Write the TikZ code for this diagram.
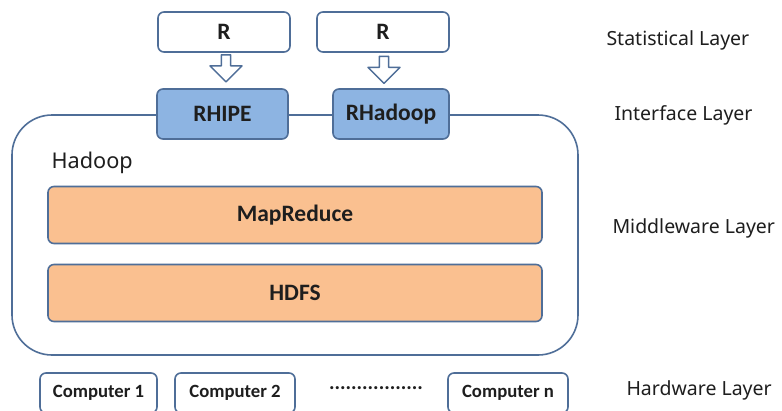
\documentclass[tikz,border=0pt]{standalone}
\usepackage{fontspec}
\setmainfont{Carlito}
\newfontfamily\layerfont{Noto Sans}
\usetikzlibrary{shapes.arrows}

\definecolor{edgeblue}{HTML}{4F6E98}
\definecolor{ifblue}{HTML}{8DB4E2}
\definecolor{mworange}{HTML}{FAC090}
\definecolor{txt}{HTML}{1E1E1E}

\tikzset{
  basebox/.style={draw=edgeblue,line width=1.6pt,rounded corners=6pt,font=\bfseries\fontsize{23.5}{26}\selectfont,text=txt},
  rbox/.style={basebox,fill=white,minimum width=132pt,minimum height=40pt},
  ifbox/.style={basebox,fill=ifblue,minimum height=50pt},
  mwbox/.style={basebox,fill=mworange,minimum width=494pt,minimum height=57pt},
  compbox/.style={basebox,fill=white,minimum height=40pt,font=\bfseries\fontsize{18.7}{20}\selectfont},
  downarrow/.style={single arrow,draw=edgeblue,line width=1.4pt,fill=white,shape border rotate=270,
    minimum height=27pt,minimum width=32pt,single arrow head extend=9pt,inner sep=3pt},
  layerlabel/.style={anchor=west,font=\layerfont\fontsize{19.5}{22}\selectfont,text=txt}
}

\begin{document}
\begin{tikzpicture}[x=1pt,y=-1pt,line cap=round,line join=round]
\path[use as bounding box,fill=white] (0,0) rectangle (782,410);

% Hadoop container
\draw[draw=edgeblue,line width=1.6pt,rounded corners=40pt] (12,115) rectangle (578,355);
\node[anchor=base west,font=\layerfont\fontsize{21.7}{24}\selectfont,text=txt] (hadoop) at (48,168) {Hadoop};

% statistical layer
\node[rbox] (r1) at (224,32) {R};
\node[rbox] (r2) at (383,32) {R};

% interface layer
\node[ifbox,minimum width=131pt] (rhipe) at (222.5,114) {RHIPE};
\node[ifbox,minimum width=116pt] (rhadoop) at (391,114) {RHadoop};

\node[downarrow] (a1) at (226,66) {};
\node[downarrow] (a2) at (384,67.5) {};

% middleware layer
\node[mwbox] (mapred) at (295,215) {MapReduce};
\node[mwbox] (hdfs) at (295,293) {HDFS};

% hardware layer
\node[compbox,minimum width=117pt] (c1) at (98.5,393) {Computer 1};
\node[compbox,minimum width=120pt] (c2) at (235,393) {Computer 2};
\node[compbox,minimum width=120pt] (cn) at (508,393) {Computer n};
\node[font=\bfseries\fontsize{20.7}{22}\selectfont,text=txt] (dots) at (376,388) {.................};

% layer names
\node[layerlabel] (stat) at (603,40) {Statistical Layer};
\node[layerlabel] (iface) at (611,115) {Interface Layer};
\node[layerlabel] (mw) at (609,228) {Middleware Layer};
\node[layerlabel] (hw) at (623,390) {Hardware Layer};
\end{tikzpicture}
\end{document}
